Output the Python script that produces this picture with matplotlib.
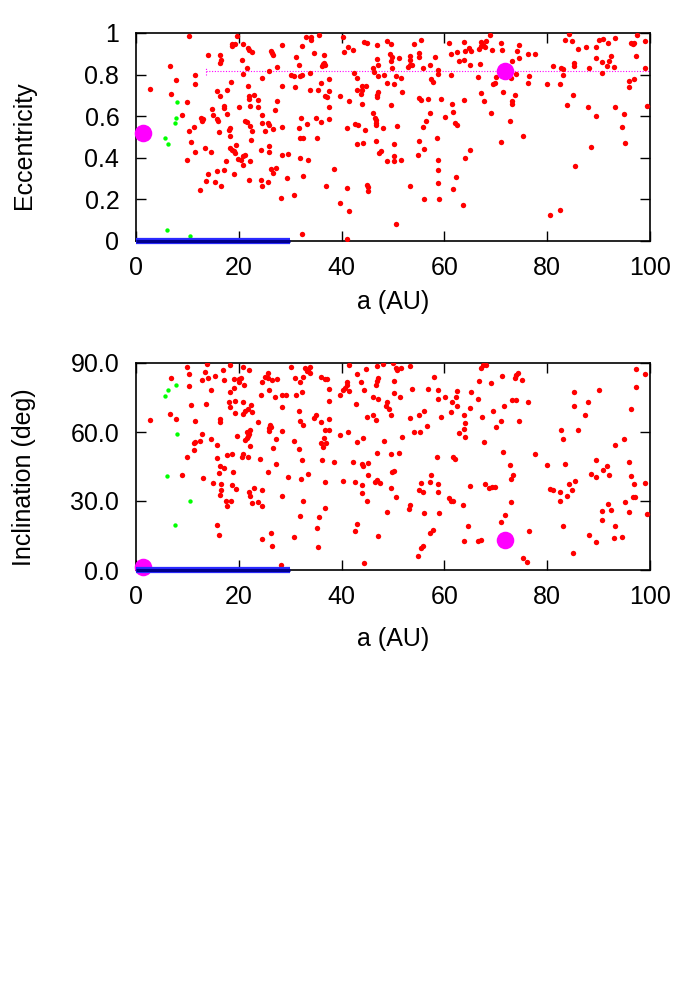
import matplotlib
matplotlib.use("Agg")
import matplotlib.pyplot as plt
from matplotlib.ticker import FuncFormatter

plt.rcParams["font.family"] = ["Liberation Sans", "DejaVu Sans"]

# ---- eccentricity panel: scattered objects (red) ----
ecc_a = [
    10.3, 19.6, 18.7, 19.3, 18.6, 20.8, 21.7, 22.0, 22.6, 14.0, 16.3, 16.5, 16.3, 20.6, 6.7,
    21.5, 11.4, 20.9, 7.7, 11.5, 18.4, 2.7, 15.7, 17.8, 21.7, 6.9, 16.3, 21.9, 23.0, 22.0,
    23.7, 10.0, 14.7, 17.1, 17.1, 20.0, 22.2, 23.7, 9.0, 15.0, 17.7, 12.7, 13.0, 12.8, 15.8,
    16.0, 21.2, 21.5, 22.2, 11.2, 10.3, 18.2, 18.0, 22.6, 16.1,
    18.2, 22.3, 10.7, 19.5, 13.4, 18.3, 18.7, 11.4, 14.5, 19.1, 19.3, 21.2, 20.9, 19.9,
    20.4, 22.2, 10.0, 17.6, 20.8, 17.2, 15.8, 14.0, 19.1, 13.7, 15.4, 16.6, 21.9, 12.4,
    35.6, 33.0, 34.0, 34.0, 40.2, 28.4, 32.3, 44.4, 44.9, 46.9,
    48.9, 26.2, 26.4, 26.7, 34.7, 36.6, 31.2, 40.4, 41.3, 42.2,
    46.9, 36.3, 36.6, 36.1, 36.7, 27.4, 31.7, 47.1, 46.2, 25.8,
    33.8, 24.5, 30.1, 30.8, 32.3, 31.9, 42.5, 42.9, 46.3, 47.1,
    48.3, 37.5, 35.9, 48.9, 43.9, 44.7, 43.9, 42.9, 43.7, 28.4,
    30.9, 33.8, 35.5, 37.6, 47.1, 46.9, 46.8, 36.7, 37.1, 39.7,
    41.4, 44.0, 27.5, 37.6, 27.0, 24.6, 46.2, 46.5, 46.7, 46.6,
    46.7, 32.1, 35.0, 36.0, 37.5, 24.6, 25.7, 25.9, 26.6, 25.1,
    28.4, 31.7, 33.2, 41.0, 42.6, 43.1, 44.5, 48.1,
    31.9, 32.4, 35.3, 25.8, 24.4, 25.8, 28.5, 29.6, 31.9, 33.4,
    43.0, 44.1, 46.6, 47.3, 47.6, 48.8, 26.2, 26.6, 27.3, 38.5,
    29.3, 32.4, 24.4, 24.6, 25.7, 36.9, 41.0, 45.0, 45.2, 45.2,
    30.7, 28.3, 39.6, 41.5, 32.3, 41.0,
    68.8, 55.4, 60.9, 54.1, 63.8, 67.2, 68.0, 67.1, 67.6, 67.9,
    71.0, 74.6, 49.6, 49.5, 49.8, 49.6, 49.9, 64.7, 65.1, 64.1,
    62.4, 66.7, 69.2, 71.3, 74.2, 61.3, 53.4, 55.0, 55.0, 51.2,
    58.1, 53.4, 53.4, 53.7, 53.0, 62.9, 63.8, 74.6, 73.2, 57.2,
    55.8, 65.0, 67.0, 58.7, 58.7, 61.3, 66.6, 50.6, 51.5, 57.3,
    57.7, 50.2, 73.9, 73.0, 70.0, 69.9, 69.5, 51.7, 71.4, 73.7,
    67.2, 55.1, 55.4, 56.9, 59.3, 63.8, 67.7, 73.1, 73.1, 61.4,
    49.6, 61.7, 57.2, 60.1, 69.1, 56.5, 62.0, 62.4, 72.7, 50.7,
    55.8,
    58.6, 50.2, 55.1, 56.1, 50.2, 50.2, 51.5, 54.8, 58.7, 58.7,
    65.0, 64.0, 71.1, 62.3, 53.4, 58.8, 61.7, 56.1, 59.0, 63.7, 50.6,
    84.3, 97.4, 83.5, 84.9, 90.1, 90.8, 93.1, 91.8, 96.4, 96.8,
    96.6, 99.0, 85.9, 87.5, 89.4, 76.3, 77.7, 92.5, 97.3, 89.4,
    92.0, 90.7, 85.2, 85.3, 81.2, 82.6, 83.0, 88.1, 91.6, 92.9,
    99.1, 90.7, 83.1, 76.5, 76.2, 80.0, 82.5, 95.9, 96.9, 96.0,
    85.1, 83.9, 87.9, 93.2, 99.5, 94.9, 89.5, 94.5,
    75.3, 88.5, 95.2, 85.5, 82.4, 80.5,
]
ecc_e = [
    0.985, 0.985, 0.947, 0.948, 0.936, 0.948, 0.928, 0.916, 0.908, 0.895, 0.895, 0.868, 0.854, 0.868, 0.839,
    0.834, 0.799, 0.801, 0.772, 0.757, 0.764, 0.732, 0.719, 0.728, 0.746, 0.709, 0.696, 0.696, 0.704, 0.682,
    0.677, 0.666, 0.634, 0.647, 0.638, 0.643, 0.647, 0.643, 0.608, 0.608, 0.611, 0.593, 0.587, 0.579, 0.587,
    0.576, 0.576, 0.573, 0.553, 0.547, 0.529, 0.545, 0.534, 0.528, 0.523,
    0.503, 0.486, 0.477, 0.463, 0.449, 0.449, 0.439, 0.428, 0.428, 0.433, 0.423, 0.412, 0.407, 0.396,
    0.388, 0.386, 0.389, 0.384, 0.367, 0.343, 0.335, 0.323, 0.323, 0.290, 0.283, 0.265, 0.294, 0.243,
    0.992, 0.979, 0.979, 0.968, 0.979, 0.942, 0.936, 0.957, 0.952, 0.940,
    0.960, 0.912, 0.902, 0.892, 0.904, 0.892, 0.887, 0.908, 0.931, 0.916,
    0.876, 0.850, 0.857, 0.842, 0.847, 0.838, 0.844, 0.844, 0.834, 0.818,
    0.810, 0.785, 0.797, 0.794, 0.799, 0.791, 0.810, 0.786, 0.814, 0.791,
    0.796, 0.781, 0.759, 0.762, 0.746, 0.744, 0.725, 0.725, 0.706, 0.743,
    0.738, 0.727, 0.727, 0.722, 0.714, 0.703, 0.690, 0.698, 0.691, 0.695,
    0.674, 0.661, 0.674, 0.642, 0.629, 0.606, 0.614, 0.592, 0.581, 0.569,
    0.558, 0.593, 0.589, 0.573, 0.587, 0.568, 0.566, 0.558, 0.539, 0.531,
    0.549, 0.545, 0.561, 0.545, 0.561, 0.558, 0.536, 0.542,
    0.497, 0.494, 0.495, 0.455, 0.436, 0.426, 0.415, 0.420, 0.400, 0.389,
    0.466, 0.471, 0.482, 0.423, 0.431, 0.386, 0.346, 0.328, 0.351, 0.344,
    0.304, 0.312, 0.291, 0.265, 0.285, 0.265, 0.253, 0.269, 0.262, 0.240,
    0.220, 0.208, 0.184, 0.145, 0.034, 0.010,
    0.989, 0.968, 0.952, 0.948, 0.955, 0.957, 0.960, 0.939, 0.940, 0.934,
    0.953, 0.940, 0.947, 0.899, 0.887, 0.863, 0.834, 0.928, 0.912, 0.912,
    0.908, 0.921, 0.916, 0.916, 0.912, 0.899, 0.889, 0.902, 0.886, 0.879,
    0.887, 0.868, 0.844, 0.844, 0.836, 0.863, 0.871, 0.878, 0.863, 0.847,
    0.833, 0.844, 0.850, 0.822, 0.802, 0.797, 0.788, 0.794, 0.785, 0.777,
    0.764, 0.754, 0.804, 0.783, 0.788, 0.760, 0.754, 0.714, 0.716, 0.700,
    0.711, 0.687, 0.679, 0.682, 0.685, 0.680, 0.675, 0.675, 0.658, 0.659,
    0.654, 0.619, 0.614, 0.598, 0.614, 0.579, 0.566, 0.558, 0.579, 0.555,
    0.548,
    0.497, 0.468, 0.481, 0.442, 0.407, 0.384, 0.389, 0.412, 0.389, 0.339,
    0.437, 0.400, 0.476, 0.310, 0.265, 0.277, 0.251, 0.200, 0.203, 0.172, 0.082,
    0.995, 0.989, 0.965, 0.960, 0.965, 0.971, 0.976, 0.953, 0.952, 0.952,
    0.947, 0.963, 0.924, 0.931, 0.931, 0.899, 0.897, 0.889, 0.889, 0.878,
    0.867, 0.859, 0.857, 0.839, 0.842, 0.833, 0.825, 0.834, 0.841, 0.836,
    0.830, 0.810, 0.797, 0.791, 0.761, 0.756, 0.757, 0.769, 0.777, 0.741,
    0.704, 0.653, 0.643, 0.643, 0.647, 0.611, 0.600, 0.548,
    0.503, 0.452, 0.471, 0.359, 0.150, 0.126,
]

# ---- inclination panel: scattered objects (red) ----
inc_a = [
    13.9, 18.3, 10.0, 20.8, 21.9, 10.3, 13.4, 17.0, 6.9, 12.8,
    14.0, 15.4, 17.1, 19.1, 20.0, 20.4, 20.0, 21.1, 10.3, 14.5,
    18.2, 19.0, 10.7, 13.7, 18.0, 18.2, 19.3, 20.9, 22.3, 21.7,
    21.3, 20.9, 22.6, 19.3, 6.7, 7.7, 2.7, 11.5, 16.3, 16.3,
    23.7, 12.8, 11.3, 11.5, 11.2, 12.4, 14.6, 15.8, 19.6, 21.5,
    21.9, 22.2, 21.7, 21.2, 21.5, 22.2, 10.0, 15.7, 17.8, 18.7,
    20.6, 20.9, 21.8, 16.3, 17.1, 18.9, 16.1, 9.0, 13.1, 15.0,
    16.5, 16.6, 16.3, 18.7, 19.5, 22.0, 22.2, 23.0, 17.6, 18.4,
    17.7, 22.6, 23.7, 15.8, 16.1,
    30.1, 32.9, 33.2, 33.8, 33.8, 33.5, 41.4, 46.8, 48.1, 44.7,
    42.9, 25.7, 25.1, 25.7, 26.5, 27.5, 24.6, 30.9, 32.4, 32.0,
    36.0, 36.7, 37.1, 41.0, 41.1, 40.6, 41.4, 40.2, 43.7, 47.1,
    46.9, 46.6, 37.6, 44.4, 25.8, 32.3, 31.2, 28.4, 29.2, 24.3,
    39.7, 27.0, 46.1, 47.1, 37.5, 42.8, 48.9, 48.7, 49.3, 28.4,
    31.7, 35.0, 34.7, 37.6, 44.9, 46.1, 46.6, 26.0, 26.2, 25.9,
    25.8, 31.9, 32.4, 35.9, 28.5, 36.7, 37.6, 41.3, 39.6, 36.6,
    36.0, 36.9, 36.3, 44.1, 43.0, 48.3, 27.3, 30.7, 26.7, 31.7,
    46.8, 24.2, 27.3, 32.3, 36.2, 38.5, 42.2, 43.9, 44.1, 45.2,
    25.7, 29.6, 32.1, 33.4, 36.8, 40.2, 42.6, 43.9, 43.9, 45.1,
    46.5, 46.8, 47.5, 24.6, 28.4, 32.4, 45.0, 24.5, 36.8, 48.9,
    31.9, 35.6, 43.0, 42.7, 26.2, 35.3, 30.7, 47.1, 24.6, 26.4,
    35.4, 44.4, 28.2,
    50.0, 50.6, 50.7, 51.5, 53.4, 67.2, 67.6, 68.0, 58.0, 50.2,
    66.7, 69.1, 71.3, 73.7, 74.0, 74.4, 75.0, 53.7, 56.9, 58.7,
    62.4, 65.2, 50.2, 51.4, 60.1, 62.2, 58.7, 61.4, 66.6, 62.5,
    49.7, 56.1, 55.0, 53.4, 61.3, 65.0, 73.1, 74.0, 71.6, 69.5,
    67.4, 63.8, 59.3, 71.0, 74.6, 64.0, 63.8, 62.9, 64.0, 56.7,
    70.1, 54.1, 55.2, 51.7, 67.7, 71.4, 49.7, 51.2, 58.6, 61.6,
    62.0, 72.7, 50.2, 49.9, 57.4, 73.3, 73.0, 55.4, 57.2, 58.7,
    65.0, 67.9, 68.7, 69.2, 69.9, 49.6, 55.0, 55.8, 58.8, 50.6,
    60.9, 61.3, 61.7, 63.6, 53.4, 53.1, 73.0, 56.1, 59.0, 71.8,
    71.0, 64.6, 57.2, 57.7, 63.8, 66.6, 67.1, 55.4, 55.8, 54.8,
    75.3,
    97.3, 99.1, 85.2, 90.1, 97.3, 76.3, 87.9, 85.2, 96.3, 87.4,
    82.7, 83.0, 85.9, 94.9, 93.1, 77.7, 80.0, 83.5, 89.4, 91.6,
    90.9, 92.0, 88.6, 89.4, 95.9, 96.4, 96.9, 99.0, 85.5, 84.3,
    80.5, 81.2, 82.4, 84.8, 83.9, 82.5, 96.6, 97.0, 95.2, 91.8,
    90.7, 92.5, 95.9, 99.5, 90.7, 83.1, 93.2, 76.5, 88.1, 89.5,
    92.9, 94.5, 85.0, 76.1,
]
inc_i = [
    89.6, 89.0, 88.1, 88.3, 87.1, 85.4, 86.1, 86.8, 83.5, 82.6,
    83.5, 84.4, 82.5, 82.9, 83.2, 83.6, 81.6, 80.5, 79.9, 78.1,
    77.3, 79.3, 71.6, 72.3, 73.1, 70.7, 73.5, 72.9, 71.6, 70.2,
    69.3, 68.0, 68.9, 68.1, 68.0, 65.8, 65.2, 65.0, 65.8, 64.5,
    64.2, 59.0, 55.1, 55.5, 52.2, 56.0, 56.8, 54.5, 58.4, 60.0,
    59.3, 60.9, 58.3, 56.7, 57.3, 54.1, 49.2, 48.7, 50.0, 50.6,
    49.3, 50.6, 49.2, 45.1, 44.5, 42.8, 42.1, 41.2, 40.2, 37.9,
    37.4, 34.8, 32.5, 37.1, 35.1, 33.8, 32.2, 35.7, 30.2, 30.2,
    28.0, 29.0, 29.6, 19.6, 15.2,
    88.3, 87.7, 86.7, 88.3, 85.7, 87.0, 89.0, 88.7, 89.6, 87.3,
    85.2, 85.7, 84.1, 83.5, 82.6, 83.2, 81.9, 83.5, 84.1, 81.9,
    83.8, 82.9, 82.9, 81.8, 80.3, 79.2, 77.7, 78.4, 81.9, 83.5,
    82.1, 80.6, 78.7, 78.1, 78.1, 77.3, 76.3, 76.3, 76.0, 76.3,
    76.3, 75.1, 75.2, 74.5, 73.5, 72.1, 73.1, 71.3, 70.2, 70.9,
    69.3, 67.3, 66.1, 65.7, 66.4, 67.3, 65.4, 63.2, 62.3, 61.8,
    60.3, 64.7, 62.9, 64.2, 60.3, 61.0, 61.0, 59.9, 58.9, 57.4,
    55.4, 55.4, 53.4, 57.4, 55.8, 56.0, 57.1, 56.0, 53.1, 52.5,
    51.0, 48.3, 46.3, 47.9, 47.9, 47.1, 47.0, 46.3, 45.4, 46.4,
    42.5, 40.5, 39.7, 41.8, 38.3, 38.6, 38.1, 37.0, 33.6, 41.2,
    38.3, 39.0, 37.9, 34.9, 32.2, 30.2, 29.9, 27.7, 26.8, 25.1,
    23.5, 22.9, 20.2, 17.1, 16.1, 18.4, 14.4, 14.8, 13.4, 10.6,
    9.9, 3.2, 2.1,
    89.9, 87.9, 87.0, 88.0, 88.9, 87.9, 89.0, 89.3, 83.8, 82.3,
    82.3, 81.2, 84.2, 83.5, 85.0, 85.7, 82.6, 78.6, 78.7, 78.3,
    77.7, 77.3, 77.0, 75.2, 75.4, 75.1, 74.2, 72.9, 74.2, 71.2,
    67.3, 69.3, 67.3, 66.1, 68.7, 70.5, 73.8, 73.8, 71.3, 69.3,
    66.4, 67.6, 66.4, 64.7, 64.7, 63.7, 61.3, 59.7, 57.7, 62.8,
    62.2, 60.0, 59.9, 57.7, 55.5, 51.3, 50.5, 50.9, 49.2, 49.3,
    48.4, 45.7, 43.2, 42.5, 41.2, 41.2, 39.7, 37.7, 38.3, 37.6,
    36.7, 37.6, 35.8, 36.0, 36.0, 35.7, 34.7, 33.8, 33.8, 31.6,
    31.3, 29.9, 30.2, 28.2, 28.4, 26.4, 29.4, 24.8, 24.8, 23.7,
    20.8, 19.2, 16.1, 17.3, 12.5, 12.8, 13.1, 9.6, 10.3, 6.0,
    5.1,
    87.4, 85.1, 77.4, 78.3, 79.4, 72.9, 73.2, 71.2, 70.2, 67.3,
    60.8, 57.0, 61.0, 57.0, 54.5, 50.5, 45.8, 46.3, 47.7, 45.1,
    43.6, 41.5, 41.8, 40.3, 46.9, 40.8, 37.6, 38.0, 38.9, 37.6,
    35.4, 34.7, 33.8, 34.7, 32.2, 29.9, 31.6, 31.6, 29.7, 28.7,
    25.7, 26.0, 25.2, 24.2, 21.9, 19.2, 19.2, 16.8, 15.2, 12.1,
    13.8, 14.2, 7.4, 3.4,
]

# inner (green) objects
green_a = [7.9, 7.7, 7.6, 5.6, 6.3, 6.0, 10.5]
green_e = [0.666, 0.592, 0.568, 0.495, 0.465, 0.055, 0.024]
green_inc_a = [7.7, 6.3, 5.6, 7.9, 6.0, 10.5, 7.6]
green_inc_i = [80.3, 78.3, 75.5, 59.2, 41.0, 29.9, 19.4]

# big magenta markers
planet_a = [1.3, 71.8]
planet_e = [0.518, 0.815]
planet_i = [1.2, 13.2]

# dotted range at the planet's eccentricity, and the planetary region
range_a = [13.6, 100]
range_e = 0.815
belt_a = [0, 30]

RED, GREEN, MAGENTA = "#ff0000", "#00ff00", "#ff00ff"
FS = 18


def style_axis(ax, yfmt, labelpad):
    ax.set_xlim(0, 100)
    ax.set_xticks([0, 20, 40, 60, 80, 100])
    ax.xaxis.set_major_formatter(FuncFormatter(lambda v, p: f"{v:g}"))
    ax.yaxis.set_major_formatter(FuncFormatter(yfmt))
    ax.tick_params(direction="in", length=7, width=1, top=True, right=True,
                   labelsize=FS)
    ax.tick_params(axis="x", pad=11)
    ax.tick_params(axis="y", pad=12)
    for s in ax.spines.values():
        s.set_linewidth(1.2)
    ax.set_xlabel("a (AU)", fontsize=FS, labelpad=labelpad)


def belt(ax):
    ax.plot(belt_a, [0, 0], color="#2a2aff", lw=4.5, solid_capstyle="butt",
            clip_on=False, zorder=6)
    ax.plot(belt_a, [0, 0], color="#00008b", lw=2.2, solid_capstyle="butt",
            clip_on=False, zorder=7)


fig = plt.figure(figsize=(7, 10), dpi=100)

ax1 = fig.add_axes([136 / 700, 1 - 241 / 1000, 514 / 700, 208 / 1000])
ax1.scatter(ecc_a, ecc_e, s=15, color=RED, linewidths=0, zorder=3)
ax1.scatter(green_a, green_e, s=10, color=GREEN, linewidths=0, zorder=3)
ax1.plot(range_a, [range_e, range_e], color=MAGENTA, lw=0.8, ls=(0, (1, 1.5)), zorder=2)
ax1.plot([range_a[0], range_a[0]], [range_e - 0.015, range_e + 0.015], color=MAGENTA,
         lw=0.8, ls=(0, (1, 1.5)), zorder=2)
ax1.scatter(planet_a, planet_e, s=160, color=MAGENTA, linewidths=0, zorder=5, clip_on=False)
belt(ax1)
ax1.set_ylim(0, 1)
ax1.set_yticks([0, 0.2, 0.4, 0.6, 0.8, 1.0])
style_axis(ax1, lambda v, p: f"{v:g}", 7)
ax1.set_ylabel("Eccentricity", fontsize=FS)
ax1.yaxis.set_label_coords(-0.195, 0.46)

ax2 = fig.add_axes([136 / 700, 1 - 570 / 1000, 514 / 700, 207 / 1000])
ax2.scatter(inc_a, inc_i, s=15, color=RED, linewidths=0, zorder=3)
ax2.scatter(green_inc_a, green_inc_i, s=10, color=GREEN, linewidths=0, zorder=3)
ax2.scatter(planet_a, planet_i, s=160, color=MAGENTA, linewidths=0, zorder=5, clip_on=False)
belt(ax2)
ax2.set_ylim(0, 90)
ax2.set_yticks([0, 30, 60, 90])
style_axis(ax2, lambda v, p: f"{v:.1f}", 13)
ax2.set_ylabel("Inclination (deg)", fontsize=FS)
ax2.yaxis.set_label_coords(-0.195, 0.45)

fig.savefig("out.png", dpi=100)
